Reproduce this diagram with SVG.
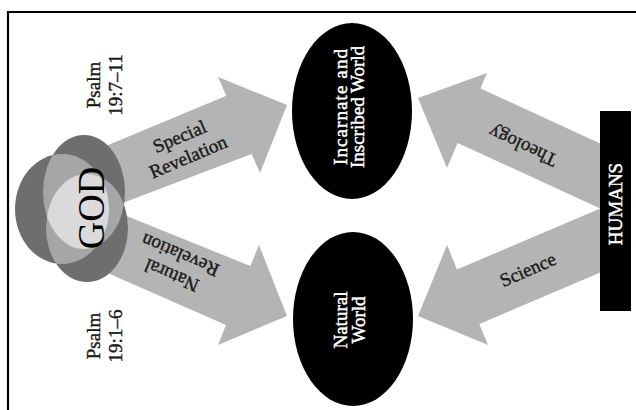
<svg xmlns="http://www.w3.org/2000/svg" width="636" height="410" viewBox="0 0 636 410">
<style>
.arrow{fill:#b4b4b4}
.lbl{font-family:"Liberation Serif","Times New Roman",serif;font-size:19px;fill:#1a1a1a;stroke:#1a1a1a;stroke-width:0.4;text-anchor:middle}
.w{fill:#ffffff;stroke:#ffffff;stroke-width:0.45}
.dark{fill:#6e6e6e}
.mid{fill:#a6a6a6}
.light{fill:#dadada}
.node{fill:#000000}
</style>
<defs>
<clipPath id="cT"><ellipse cx="84" cy="192" rx="41" ry="57"/></clipPath>
<clipPath id="cB"><ellipse cx="87" cy="228" rx="41" ry="54"/></clipPath>
</defs>
<rect width="636" height="410" fill="#ffffff"/>
<path d="M7 12 H636 M8 12 V410" stroke="#000" stroke-width="2.2" fill="none"/>

<g id="connectors">
  <polygon class="arrow" points="287,105 260,173 251.6,154 95,213.4 95,150.5 226.3,95.8 218,77"/>
  <polygon class="arrow" points="287,316 259,245 250.4,266 95,203.2 95,267.5 226,325 218,345"/>
  <polygon class="arrow" points="418,98 487,73 480.5,88.4 605,145.7 605,210.7 457.6,142.9 447,168"/>
  <polygon class="arrow" points="418,316 447,245 457,269.4 605,206.6 605,270.6 479.3,323.9 488,345"/>
  <g class="lbl" transform="translate(184,147) rotate(-23)"><text y="-5">Special</text><text y="17">Revelation</text></g>
  <g class="lbl" transform="translate(176,265) rotate(203)"><text y="-5">Natural</text><text y="17">Revelation</text></g>
  <text class="lbl" transform="translate(523,146) rotate(204.7)" y="6">Theology</text>
  <text class="lbl" transform="translate(528,270) rotate(-23.5)" y="6">Science</text>
</g>

<g id="god">
  <ellipse class="dark" cx="84" cy="192" rx="41" ry="57"/>
  <ellipse class="dark" cx="87" cy="228" rx="41" ry="54"/>
  <ellipse class="dark" cx="62" cy="209" rx="47" ry="55"/>
  <g clip-path="url(#cT)"><ellipse class="mid" cx="62" cy="209" rx="47" ry="55"/><ellipse class="mid" cx="87" cy="228" rx="41" ry="54"/></g>
  <g clip-path="url(#cB)"><ellipse class="mid" cx="62" cy="209" rx="47" ry="55"/></g>
  <g clip-path="url(#cT)"><g clip-path="url(#cB)"><ellipse class="light" cx="62" cy="209" rx="47" ry="55"/></g></g>
  <text transform="translate(104,208) rotate(-90)" style="font-family:'Liberation Serif','Times New Roman',serif;font-size:38px;fill:#000;text-anchor:middle">GOD</text>
</g>

<g id="psalm-special" class="lbl" transform="translate(100,85) rotate(-90)"><text y="0">Psalm</text><text y="22">19:7–11</text></g>
<g id="psalm-natural" class="lbl" transform="translate(100,336) rotate(-90)"><text y="0">Psalm</text><text y="22">19:1–6</text></g>

<g id="incarnate-world">
  <ellipse class="node" cx="352" cy="111" rx="60" ry="88"/>
  <g class="lbl" transform="translate(352,107) rotate(-90)"><text class="w" y="-5" textLength="116" lengthAdjust="spacing">Incarnate and</text><text class="w" y="12">Inscribed World</text></g>
</g>

<g id="natural-world">
  <ellipse class="node" cx="353" cy="319" rx="60" ry="87"/>
  <g class="lbl" transform="translate(352,320) rotate(-90)"><text class="w" y="-5">Natural</text><text class="w" y="13">World</text></g>
</g>

<g id="humans">
  <rect class="node" x="600" y="111" width="31" height="200"/>
  <text class="lbl w" transform="translate(622,204) rotate(-90)">HUMANS</text>
</g>
</svg>
